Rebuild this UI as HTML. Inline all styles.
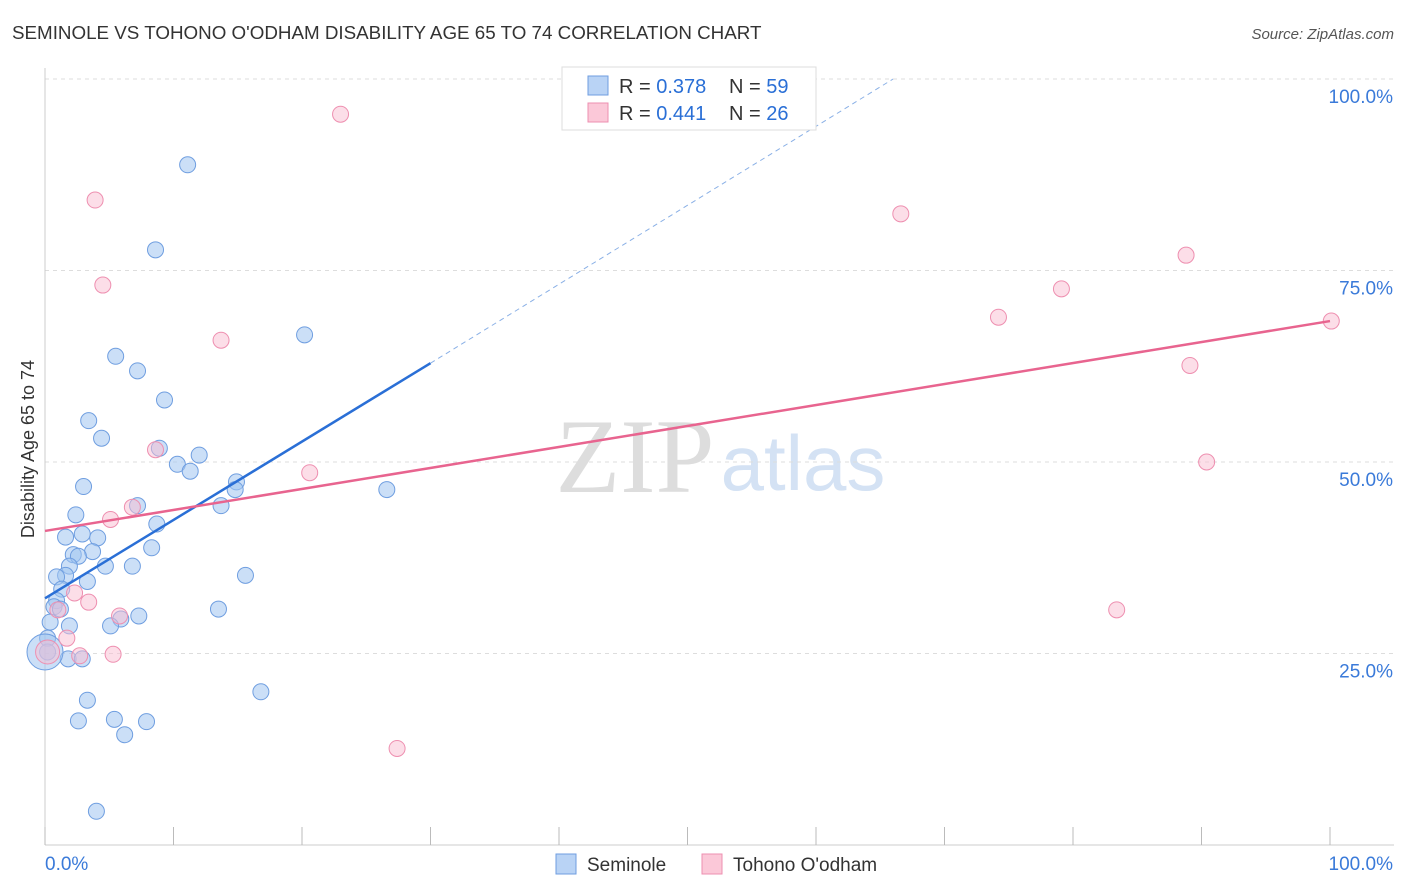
<!DOCTYPE html>
<html><head><meta charset="utf-8"><style>
body{margin:0;background:#fff;font-family:"Liberation Sans",sans-serif;}
svg{display:block}
</style></head><body>
<svg width="1406" height="892">
<text x="12" y="39" font-size="18.8" fill="#333">SEMINOLE VS TOHONO O'ODHAM DISABILITY AGE 65 TO 74 CORRELATION CHART</text>
<text x="1394" y="39" font-size="15" fill="#555" text-anchor="end" font-style="italic">Source: ZipAtlas.com</text>
<text x="40" y="455" font-size="18" fill="#333" text-anchor="middle" transform="rotate(-90 34 455)">Disability Age 65 to 74</text>
<g><text x="635" y="492" font-size="106" fill="#ddd" text-anchor="middle" font-family="Liberation Serif,serif">ZIP</text><text x="803" y="490" font-size="78" fill="#d4e2f4" text-anchor="middle">atlas</text></g>
<g id="grid"></g><g id="axes"></g><g id="marks"></g>
<g>
<rect x="562" y="67" width="254" height="63" fill="#fff" stroke="#ddd"/>
<rect x="588" y="76" width="20" height="19" fill="#b9d3f5" stroke="#6f9ee0"/>
<rect x="588" y="103" width="20" height="19" fill="#fbc8d8" stroke="#ee8fb0"/>
<text x="619" y="93" font-size="20" fill="#333">R = <tspan fill="#2a6fd6">0.378</tspan></text>
<text x="729" y="93" font-size="20" fill="#333">N = <tspan fill="#2a6fd6">59</tspan></text>
<text x="619" y="120" font-size="20" fill="#333">R = <tspan fill="#2a6fd6">0.441</tspan></text>
<text x="729" y="120" font-size="20" fill="#333">N = <tspan fill="#2a6fd6">26</tspan></text>
</g>
<g>
<rect x="556" y="854" width="20" height="20" fill="#b9d3f5" stroke="#6f9ee0"/><text x="587" y="871" font-size="19" fill="#333">Seminole</text>
<rect x="702" y="854" width="20" height="20" fill="#fbc8d8" stroke="#ee8fb0"/><text x="733" y="871" font-size="19" fill="#333">Tohono O'odham</text>
</g>
</svg>
<script>
const yTicks=[25,50,75,100];
const yTickLabels=["25.0%","50.0%","75.0%","100.0%"];
const blueX=[11.1,8.6,5.5,7.2,20.2,9.3,3.4,4.4,8.9,12.0,10.3,11.3,14.9,14.8,3.0,26.6,7.2,13.7,2.4,8.7,1.6,2.9,4.1,8.3,3.7,2.2,2.6,1.9,4.7,6.8,1.6,0.9,3.3,15.6,1.3,0.9,0.7,1.2,13.5,7.3,5.9,1.9,5.1,0.4,0.2,0.2,1.8,2.9,3.3,16.8,2.6,5.4,7.9,6.2,4.0,0.0];
const blueY=[88.8,77.7,63.8,61.9,66.6,58.1,55.4,53.1,51.8,50.9,49.7,48.8,47.4,46.4,46.8,46.4,44.3,44.3,43.1,41.9,40.2,40.6,40.1,38.8,38.3,37.9,37.7,36.4,36.4,36.4,35.2,35.0,34.4,35.2,33.4,31.9,31.1,30.8,30.8,29.9,29.5,28.6,28.6,29.1,27.0,25.2,24.3,24.3,18.9,20.0,16.2,16.4,16.1,14.4,4.4,25.2];
const pinkX=[23.0,3.9,4.5,66.6,88.8,79.1,74.2,100.1,13.7,89.1,8.6,20.6,90.4,5.1,6.8,2.3,3.4,5.8,1.0,1.7,2.7,5.3,83.4,27.4,0.2];
const pinkY=[95.4,84.2,73.1,82.4,77.0,72.6,68.9,68.4,65.9,62.6,51.6,48.6,50.0,42.5,44.1,32.9,31.7,29.9,30.7,27.0,24.7,24.9,30.7,12.6,25.2];
const blueLine=[[0,32.2],[30,62.9]], blueDash=[[30,62.9],[66,100]];
const pinkLine=[[0,41.0],[100,68.4]];
const X=v=>45+v*12.85, Y=v=>845-v*7.66;
const NS="http://www.w3.org/2000/svg";
function mk(p,t,a){const e=document.createElementNS(NS,t);for(const k in a)e.setAttribute(k,a[k]);document.getElementById(p).appendChild(e);return e;}
yTicks.forEach((t,i)=>{
 const g=mk('grid','line',{x1:45,x2:1394,y1:Y(t),y2:Y(t),stroke:'#ddd','stroke-dasharray':'4 4'});
 
 
 const l=mk('grid','text',{x:1393,y:Y(t)+24,'font-size':19,fill:'#3a7ad9','text-anchor':'end'});l.textContent=yTickLabels[i];
 
 
});
let a=mk('axes','line',{x1:45,x2:1394,y1:845,y2:845,stroke:'#ccc'});


a=mk('axes','line',{x1:45,x2:45,y1:68,y2:845,stroke:'#ccc'});


for(let i=0;i<=10;i++){const t=mk('axes','line',{x1:X(i*10),x2:X(i*10),y1:827,y2:845,stroke:'#bbb'});
 
 }
let t=mk('axes','text',{x:45,y:870,'font-size':19,fill:'#3a7ad9'});t.textContent='0.0%';


t=mk('axes','text',{x:1393,y:870,'font-size':19,fill:'#3a7ad9','text-anchor':'end'});t.textContent='100.0%';


blueX.forEach((x,i)=>{const r=i==blueX.length-1?18:8;const c=mk('marks','circle',{cx:X(x),cy:Y(blueY[i]),r:r,fill:'rgba(160,196,240,0.55)',stroke:'#6f9ee0','stroke-width':1});
 
 });
pinkX.forEach((x,i)=>{const r=i==pinkX.length-1?12:8;const c=mk('marks','circle',{cx:X(x),cy:Y(pinkY[i]),r:r,fill:'rgba(250,190,210,0.5)',stroke:'#ee8fb0','stroke-width':1});
 
 });
let L=mk('marks','line',{x1:X(blueLine[0][0]),y1:Y(blueLine[0][1]),x2:X(blueLine[1][0]),y2:Y(blueLine[1][1]),stroke:'#2a6fd6','stroke-width':2.5});


L=mk('marks','line',{x1:X(blueDash[0][0]),y1:Y(blueDash[0][1]),x2:X(blueDash[1][0]),y2:Y(blueDash[1][1]),stroke:'#8ab0e6','stroke-width':1,'stroke-dasharray':'5 4'});


L=mk('marks','line',{x1:X(pinkLine[0][0]),y1:Y(pinkLine[0][1]),x2:X(pinkLine[1][0]),y2:Y(pinkLine[1][1]),stroke:'#e8648f','stroke-width':2.5});


</script>
</body></html>
